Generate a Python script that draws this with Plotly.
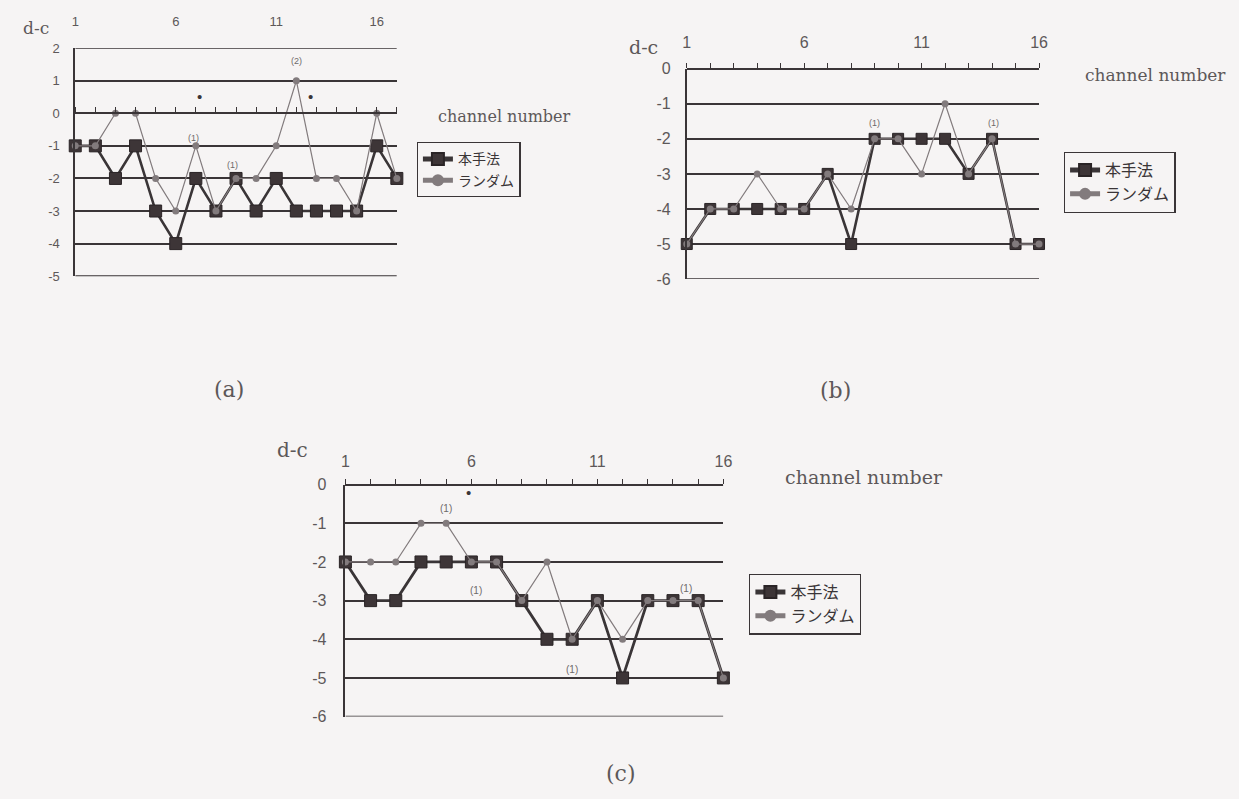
import plotly.graph_objects as go

# ---- data -------------------------------------------------------------
channels_a = list(range(1, 18))
proposed_a = [-1, -1, -2, -1, -3, -4, -2, -3, -2, -3, -2, -3, -3, -3, -3, -1, -2]
random_a = [-1, -1, 0, 0, -2, -3, -1, -3, -2, -2, -1, 1, -2, -2, -3, 0, -2]

channels_b = list(range(1, 17))
proposed_b = [-5, -4, -4, -4, -4, -4, -3, -5, -2, -2, -2, -2, -3, -2, -5, -5]
random_b = [-5, -4, -4, -3, -4, -4, -3, -4, -2, -2, -3, -1, -3, -2, -5, -5]

channels_c = list(range(1, 17))
proposed_c = [-2, -3, -3, -2, -2, -2, -2, -3, -4, -4, -3, -5, -3, -3, -3, -5]
random_c = [-2, -2, -2, -1, -1, -2, -2, -3, -2, -4, -3, -4, -3, -3, -3, -5]

x_labels = [1, 6, 11, 16]
yrange_a = [-5, 2]
yrange_b = [-6, 0]
yrange_c = [-6, 0]

# notes (text, channel, value) per panel
notes_a = [("(2)", 12, 1.6), ("(1)", 6.9, -0.75), ("(1)", 8.8, -1.6),
           ("•", 7.2, 0.5), ("•", 12.7, 0.5)]
notes_b = [("(1)", 9, -1.55), ("(1)", 14.05, -1.55), ("•", 9, 0.34), ("•", 14.05, 0.34)]
notes_c = [("(1)", 5.0, -0.63), ("(1)", 6.2, -2.74), ("(1)", 10.0, -4.77),
           ("(1)", 14.5, -2.69), ("•", 5.9, -0.2)]

NAME_P = "本手法"
NAME_R = "ランダム"

# ---- style ------------------------------------------------------------
W, H = 1239, 799
BG = "#f6f4f4"
INK = "#3a3537"
TXT = "#5d5859"
SQ = "#3d3537"
CI = "#827b7d"
SANS = "Liberation Sans, Arial, sans-serif"
SERIF = "DejaVu Serif, Liberation Serif, serif"
CJK = "Noto Sans CJK JP, sans-serif"


def fx(px):
    return px / W


def fy(py):
    return 1 - py / H


panels = [
    dict(key="a", ch=channels_a, p=proposed_a, r=random_a, yr=yrange_a, notes=notes_a,
         xd=[fx(72), fx(397)], yd=[fy(274), fy(41)], tick_fs=13, lab_fs=13,
         sq=12, ci=7, pw=2.6, label_gap=76, ytick_gap=11,
         dc=(32, 20, 17), cn=(506, 111, 16), cap=(227, 390),
         leg=(417, 137, 14), note_fs=9),
    dict(key="b", ch=channels_b, p=proposed_b, r=random_b, yr=yrange_b, notes=notes_b,
         xd=[fx(690), fx(1046)], yd=[fy(277), fy(62)], tick_fs=16, lab_fs=16,
         sq=11, ci=7, pw=2.6, label_gap=8, ytick_gap=11,
         dc=(646, 40, 19), cn=(1164, 68, 17), cap=(840, 391),
         leg=(1071, 147, 16), note_fs=9),
    dict(key="c", ch=channels_c, p=proposed_c, r=random_c, yr=yrange_c, notes=notes_c,
         xd=[fx(345), fx(727)], yd=[fy(724), fy(487)], tick_fs=16, lab_fs=16,
         sq=12, ci=7, pw=2.8, label_gap=5, ytick_gap=14,
         dc=(292, 452, 20), cn=(869, 479, 19), cap=(624, 782),
         leg=(753, 578, 16), note_fs=10),
]

fig = go.Figure()
layout = dict(
    width=W, height=H, margin=dict(l=0, r=0, t=0, b=0),
    paper_bgcolor=BG, plot_bgcolor=BG, showlegend=True,
    font=dict(family=SANS, color=TXT),
)
annotations = []
shapes = []

for i, pn in enumerate(panels):
    n = i + 1
    xa = "x" if n == 1 else f"x{n}"
    ya = "y" if n == 1 else f"y{n}"
    xkey = "xaxis" if n == 1 else f"xaxis{n}"
    ykey = "yaxis" if n == 1 else f"yaxis{n}"
    leg = "legend" if n == 1 else f"legend{n}"

    ch = pn["ch"]
    x_max = ch[-1]
    y0, y1 = pn["yr"]

    fig.add_trace(go.Scatter(
        x=ch, y=pn["p"], mode="lines+markers", name=NAME_P,
        xaxis=xa, yaxis=ya, legend=leg, cliponaxis=False,
        line=dict(color=INK, width=pn["pw"]),
        marker=dict(symbol="square", size=pn["sq"], color=SQ,
                    line=dict(color="#2a2426", width=1)),
    ))
    fig.add_trace(go.Scatter(
        x=ch, y=pn["r"], mode="lines+markers", name=NAME_R,
        xaxis=xa, yaxis=ya, legend=leg, cliponaxis=False,
        line=dict(color=CI, width=1.2),
        marker=dict(symbol="circle", size=pn["ci"], color=CI),
    ))

    # channel axis drawn along d-c = 0, labels lifted above the panel
    zero_frac = pn["yd"][0] + (0 - y0) / (y1 - y0) * (pn["yd"][1] - pn["yd"][0])
    layout[xkey] = dict(
        domain=pn["xd"], range=[1, x_max], anchor="free", position=zero_frac,
        side="top", showline=True, linecolor=INK, linewidth=1.6,
        showgrid=False, zeroline=False,
        ticks="outside", ticklen=5, tickwidth=1.3, tickcolor=INK,
        tickvals=ch, ticktext=[str(c) if c in x_labels else "" for c in ch],
        tickfont=dict(size=pn["lab_fs"], color=TXT, family=SANS),
        ticklabelstandoff=pn["label_gap"],
    )
    layout[ykey] = dict(
        domain=pn["yd"], range=[y0, y1], anchor=xa,
        showline=True, linecolor=INK, linewidth=1.6,
        showgrid=True, gridcolor=INK, gridwidth=1.6, zeroline=False,
        ticks="", tickvals=list(range(y0, y1 + 1)),
        ticktext=[str(v) for v in range(y0, y1 + 1)],
        tickfont=dict(size=pn["tick_fs"], color=TXT, family=SANS),
        ticklabelstandoff=pn["ytick_gap"],
    )
    # the outermost grid rules at both ends of the d-c range
    for yv in (y0, y1):
        shapes.append(dict(type="line", xref=xa, yref=ya, x0=1, x1=x_max, y0=yv, y1=yv,
                           line=dict(color=INK, width=1.6), layer="below"))

    lx, ly, lfs = pn["leg"]
    layout[leg] = dict(
        x=fx(lx), y=fy(ly), xanchor="left", yanchor="top",
        bgcolor=BG, bordercolor=INK, borderwidth=1.3,
        font=dict(family=CJK, size=lfs, color=INK),
        tracegroupgap=0, itemwidth=30, itemsizing="constant",
    )

    def paper_text(text, px_, py_, size, family):
        annotations.append(dict(text=text, x=fx(px_), y=fy(py_), xref="paper",
                                yref="paper", xanchor="center", yanchor="middle",
                                showarrow=False,
                                font=dict(family=family, size=size, color=TXT)))

    dx, dy, dfs = pn["dc"]
    paper_text("d-c", dx, dy, dfs, SERIF)
    cx, cy, cfs = pn["cn"]
    paper_text("channel number", cx, cy, cfs, SERIF)
    px_, py_ = pn["cap"]
    paper_text(f"({pn['key']})", px_, py_, 22, SERIF)

    for txt, nx, ny in pn["notes"]:
        dot = txt == "•"
        annotations.append(dict(text=txt, x=nx, y=ny, xref=xa, yref=ya, showarrow=False,
                                xanchor="center", yanchor="middle",
                                font=dict(family=SANS, size=15 if dot else pn["note_fs"],
                                          color=INK if dot else "#6e696a")))

layout["annotations"] = annotations
layout["shapes"] = shapes
fig.update_layout(**layout)
fig.write_html("out.html")
